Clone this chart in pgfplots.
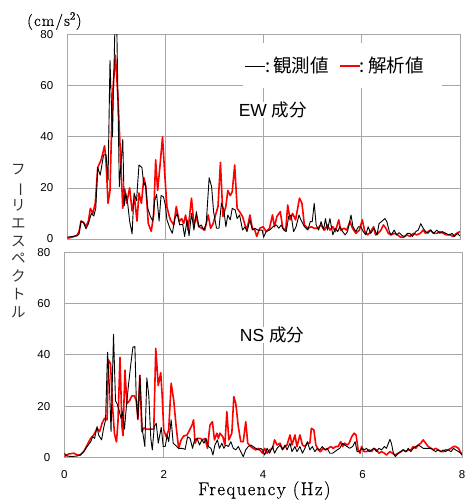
\documentclass[border=0pt]{standalone}
\usepackage{fontspec}
\usepackage{graphicx}
\usepackage{pgfplots}
\pgfplotsset{compat=1.18}
\newfontfamily\arial{Liberation Sans}
\newfontfamily\jp{Noto Sans CJK JP}
\newfontfamily\titleserif{Latin Modern Roman}[FakeBold=0.6]
\definecolor{gridgray}{RGB}{166,166,166}

\pgfplotsset{
  spec/.style={
    scale only axis, anchor=south west,
    xmin=0, xmax=8, ymin=0, ymax=80,
    xtick={0,2,4,6,8}, ytick={0,20,40,60,80},
    grid=major, major grid style={gridgray, line width=0.8pt},
    axis line style={gridgray, line width=0.8pt},
    major tick length=0pt,
    ticklabel style={font=\arial\fontsize{11.5}{12}\selectfont},
    /pgf/number format/assume math mode=true,
    yticklabel style={xshift=-10.5pt},
    xticklabel style={yshift=-9.8pt},
  },
  obs/.style={black, line width=0.9pt, line join=round},
  sim/.style={red, line width=1.6pt, line join=round},
}

\begin{document}
\begin{tikzpicture}[x=1pt,y=1pt]
\useasboundingbox (0,0) rectangle (465,501);

% ---------- EW component ----------
\begin{axis}[spec, at={(67.3pt,262pt)}, width=392.7pt, height=204.3pt, xticklabels={}]
  \addplot[sim] coordinates {
    (0,0.3) (0.1,0.7) (0.2,1.5) (0.24,3) (0.28,7) (0.33,6.5) (0.38,5) (0.43,7) (0.47,12)
    (0.52,10) (0.57,14) (0.62,28) (0.69,31) (0.76,36.5) (0.79,30) (0.83,14) (0.87,19)
    (0.92,56) (0.98,72) (1.03,56) (1.09,30) (1.13,12) (1.17,19.5) (1.21,14) (1.27,20)
    (1.32,11) (1.37,16) (1.42,7) (1.46,18) (1.51,14) (1.56,24) (1.60,20.5) (1.65,6)
    (1.71,3) (1.76,9.5) (1.80,31) (1.84,19) (1.89,29) (1.94,40) (1.98,27) (2.03,12.5)
    (2.07,9.5) (2.10,7.5) (2.17,5.5) (2.22,12.7) (2.28,6.8) (2.33,8) (2.37,6) (2.41,9.4)
    (2.46,3.5) (2.53,16) (2.58,5.5) (2.63,8.8) (2.68,4.8) (2.74,4.2) (2.80,3.5) (2.87,9.4)
    (2.92,4.2) (2.97,6) (3.02,9.4) (3.07,12.7) (3.12,30) (3.17,8.8) (3.23,12.7) (3.27,19)
    (3.32,17) (3.36,18.5) (3.41,29) (3.46,12) (3.51,10.7) (3.57,8.8) (3.62,5.5) (3.66,3.5)
    (3.72,9.4) (3.77,4.2) (3.82,3.5) (3.86,1) (3.92,4.2) (3.99,4.8) (4.05,2.9) (4.12,4.2)
    (4.18,9.4) (4.22,4.8) (4.27,8.8) (4.34,10.7) (4.39,4.2) (4.45,3.5) (4.49,13.3) (4.54,7.5)
    (4.59,10) (4.65,7.5) (4.70,12.7) (4.73,16) (4.78,14) (4.83,5.5) (4.90,4.2) (4.97,4.8)
    (5.03,4.2) (5.10,4.2) (5.17,5.5) (5.24,3.5) (5.30,5.5) (5.35,3.5) (5.41,4.8) (5.46,2.9)
    (5.53,7.5) (5.57,3.5) (5.64,4.2) (5.69,3.5) (5.76,6.8) (5.81,4.2) (5.88,2.2) (5.95,3.5)
    (6.01,7.5) (6.06,2.9) (6.12,1.6) (6.18,2.9) (6.24,4.8) (6.28,1.6) (6.33,2.2) (6.39,3.5)
    (6.44,5.5) (6.49,4.2) (6.54,2.2) (6.59,1.6) (6.66,2.2) (6.73,1.6) (6.79,0.7) (6.85,0.7)
    (6.92,1.6) (6.98,1) (7.05,2.2) (7.12,1.6) (7.19,2.2) (7.25,3.5) (7.30,2.2) (7.35,2.9)
    (7.40,3.5) (7.46,2.2) (7.53,2.2) (7.59,2.9) (7.66,2.2) (7.73,1.6) (7.80,1.6) (7.86,1)
    (7.93,2.2) (8.0,2.9)
  };
  \addplot[obs] coordinates {
    (0,0.7) (0.1,1) (0.2,1.2) (0.24,2) (0.28,7) (0.33,6.5) (0.38,4) (0.43,6) (0.49,10)
    (0.54,9) (0.58,12) (0.62,28) (0.67,25) (0.74,33) (0.79,33) (0.83,23) (0.87,70)
    (0.92,40) (0.97,83) (1.01,81) (1.06,20.5) (1.13,39) (1.16,13) (1.19,18) (1.23,14)
    (1.27,7) (1.32,2) (1.36,18) (1.41,15) (1.46,29) (1.52,28) (1.56,21) (1.59,22) (1.64,12)
    (1.69,9) (1.74,7) (1.78,15) (1.82,17.5) (1.87,7) (1.91,17) (1.96,16.5) (2.0,13)
    (2.03,7.5) (2.09,4.2) (2.14,2.2) (2.19,8) (2.24,10) (2.29,5.5) (2.35,5.8) (2.39,1)
    (2.44,7.5) (2.48,1.2) (2.53,10) (2.58,3.5) (2.63,10.7) (2.68,4.8) (2.73,5.5) (2.78,3.5)
    (2.83,6) (2.89,24) (2.94,20.5) (2.98,10.7) (3.04,4.2) (3.09,4.2) (3.14,14) (3.19,11.4)
    (3.23,4.8) (3.27,9.4) (3.32,7.5) (3.36,12) (3.42,11.4) (3.46,8) (3.51,9.4) (3.57,3.5)
    (3.62,4.8) (3.66,2.9) (3.72,7.5) (3.77,3.5) (3.82,4.2) (3.88,3.5) (3.92,3.5) (3.97,3.5)
    (4.0,0.7) (4.05,2.9) (4.12,3.5) (4.19,4.8) (4.26,5.5) (4.31,4.2) (4.36,5.5) (4.41,3.5)
    (4.46,2.9) (4.51,8.8) (4.56,9.4) (4.61,2.9) (4.66,4.8) (4.72,9.4) (4.76,7.5) (4.83,4.8)
    (4.90,3.5) (4.95,6.8) (4.99,6.8) (5.03,14) (5.07,5.5) (5.12,3.5) (5.17,6.8) (5.22,3.5)
    (5.26,8) (5.30,3.5) (5.35,8) (5.41,1.6) (5.46,4.2) (5.51,2.9) (5.55,4.8) (5.61,2.9)
    (5.66,1.6) (5.71,2.9) (5.78,9.4) (5.82,4.8) (5.88,2.9) (5.93,4.8) (5.98,4.8) (6.03,2.9)
    (6.08,1.6) (6.13,4.8) (6.18,2.2) (6.25,4.2) (6.31,1.6) (6.35,6) (6.40,6.8) (6.47,8)
    (6.51,6.8) (6.56,2.9) (6.60,1.6) (6.66,3.5) (6.71,1.6) (6.76,2.5) (6.83,1.2) (6.87,1)
    (6.93,2.2) (6.98,2.2) (7.03,1) (7.10,2.9) (7.15,3.5) (7.20,6) (7.25,4.2) (7.30,2.9)
    (7.35,2.2) (7.40,3.5) (7.46,2.2) (7.53,3.5) (7.59,2.2) (7.64,2.9) (7.71,2.2) (7.78,1.6)
    (7.84,2.2) (7.89,1) (7.95,2.2) (8.0,1.2)
  };
  % legend
  \fill[white] (axis cs:3.58,59.1) rectangle (axis cs:7.63,76.7);
  \node[anchor=west, inner sep=0, font=\jp\fontsize{18.5}{18.5}\selectfont]
    at (axis cs:3.62,68.1)
    {\rule[0.3em]{20pt}{0.6pt}:\,観測値\hspace{11pt}{\color{red}\rule[0.27em]{20pt}{2.2pt}}:\,解析値};
  \node[anchor=base west, inner sep=0, fill=white, font=\fontsize{17.5}{17.5}\selectfont]
    at (axis cs:3.49,47.8) {\arial EW \jp 成分};
\end{axis}

% ---------- NS component ----------
\begin{axis}[spec, at={(64.3pt,43.7pt)}, width=397.7pt, height=205pt]
  \addplot[sim] coordinates {
    (0,0.3) (0.09,1.3) (0.19,1.6) (0.26,0.9) (0.32,0.9) (0.39,2.2) (0.46,4.8) (0.53,7.4)
    (0.59,8.7) (0.66,11.3) (0.71,10) (0.76,13.3) (0.81,15.2) (0.86,14.6) (0.89,38) (0.93,36.5)
    (0.97,20) (1.01,9) (1.05,6) (1.08,14) (1.12,39) (1.16,12) (1.18,8.5) (1.22,34) (1.26,21)
    (1.31,22) (1.36,24) (1.41,24) (1.45,22) (1.48,15) (1.52,32) (1.56,10) (1.60,11.5)
    (1.65,11) (1.70,11) (1.76,11) (1.80,11) (1.84,42.5) (1.89,28) (1.94,33) (1.97,23.7)
    (2.0,10.7) (2.05,8) (2.10,10.7) (2.15,28.9) (2.20,22.4) (2.25,12) (2.30,3.5) (2.35,6.8)
    (2.40,8.3) (2.47,8.7) (2.52,10.7) (2.57,12.6) (2.60,14.6) (2.63,5.5) (2.68,7.4) (2.73,7.4)
    (2.79,6.8) (2.83,7.4) (2.88,3.5) (2.93,12.6) (2.98,13.9) (3.02,6.8) (3.07,9.4) (3.10,7.4)
    (3.13,9.4) (3.19,8) (3.23,4.8) (3.27,17.8) (3.31,6.8) (3.37,9.4) (3.41,23.7) (3.45,21)
    (3.50,12) (3.55,6.1) (3.60,6.1) (3.65,13.9) (3.69,5.5) (3.75,4.2) (3.80,3.5) (3.85,2.9)
    (3.90,3.5) (3.93,2.9) (3.99,1.6) (4.03,3.5) (4.08,1.6) (4.13,2.9) (4.19,3.5) (4.23,6.8)
    (4.28,4.8) (4.34,5.5) (4.39,3.1) (4.44,4.2) (4.48,4.8) (4.54,8.7) (4.58,4.8) (4.64,8.7)
    (4.68,4.2) (4.74,8.7) (4.79,4.8) (4.84,4.2) (4.89,5.5) (4.94,5.5) (4.97,11.3) (5.02,10.7)
    (5.06,4.8) (5.11,2.9) (5.15,2.2) (5.21,3.5) (5.26,2.9) (5.31,3.5) (5.36,4.2) (5.41,3.5)
    (5.46,4.2) (5.51,4.2) (5.56,6.1) (5.60,4.2) (5.64,5.5) (5.69,4.8) (5.73,5.5) (5.78,8)
    (5.83,9.4) (5.87,8.7) (5.91,2.9) (5.95,1.6) (5.98,4.2) (6.03,2.2) (6.08,2.2) (6.13,2.9)
    (6.18,2.2) (6.23,3.5) (6.28,2.9) (6.33,1.6) (6.38,2.2) (6.44,1.6) (6.48,0.9) (6.55,2.2)
    (6.60,1.6) (6.65,0.9) (6.72,1.6) (6.77,2.2) (6.82,2.9) (6.87,2.2) (6.92,2.9) (6.97,2.9)
    (7.02,4.2) (7.07,3.5) (7.12,4.8) (7.17,5.5) (7.22,6.8) (7.27,5.5) (7.32,4.2) (7.38,3.5)
    (7.42,2.9) (7.47,3.5) (7.52,2.9) (7.58,2.2) (7.62,2.2) (7.67,2.9) (7.72,2.9) (7.78,3.5)
    (7.83,4.2) (7.87,4.2) (7.93,3.5) (7.98,1.6) (8.0,0.9)
  };
  \addplot[obs] coordinates {
    (0,1.6) (0.05,0.5) (0.15,0.3) (0.26,0.5) (0.32,0.9) (0.39,2.2) (0.46,4.2) (0.53,6)
    (0.57,8) (0.61,7.4) (0.66,12) (0.69,8.7) (0.75,6.8) (0.79,11.3) (0.83,14.6) (0.87,41)
    (0.91,27) (0.94,10) (0.99,48) (1.03,22) (1.06,21) (1.10,18.5) (1.14,15.2) (1.17,17.8)
    (1.21,11) (1.25,20) (1.29,28) (1.33,35) (1.38,43) (1.42,43.2) (1.45,21) (1.48,14.6)
    (1.52,32) (1.57,10.7) (1.62,4.2) (1.66,31) (1.70,24) (1.74,7.4) (1.77,2.9) (1.81,12)
    (1.85,13.3) (1.89,5.5) (1.95,11.7) (1.99,4.2) (2.03,4.2) (2.07,8.7) (2.10,6.1) (2.15,14.6)
    (2.19,5.5) (2.23,4.8) (2.30,3.5) (2.37,3.5) (2.43,3.1) (2.48,8) (2.53,7.4) (2.58,3.5)
    (2.62,6.8) (2.67,7.4) (2.72,4.8) (2.77,6.8) (2.81,5.5) (2.85,7.4) (2.90,4.2) (2.95,3.5)
    (2.99,0.9) (3.03,4.8) (3.08,6.8) (3.12,3.5) (3.17,5.5) (3.21,3.5) (3.25,4.8) (3.30,4.2)
    (3.35,6.1) (3.40,3.5) (3.45,2.9) (3.50,4.2) (3.55,2.2) (3.60,0.3) (3.65,2.9) (3.70,4.2)
    (3.75,4.8) (3.80,4.2) (3.85,3.5) (3.90,2.9) (3.95,3.5) (3.99,2.9) (4.03,0.9) (4.08,3.5)
    (4.13,1.6) (4.19,4.2) (4.23,1.6) (4.28,3.5) (4.34,4.8) (4.39,2.9) (4.44,4.8) (4.48,2.9)
    (4.54,5.5) (4.58,2.2) (4.64,4.2) (4.68,2.2) (4.74,4.2) (4.79,1.6) (4.84,3.5) (4.89,6.1)
    (4.94,2.9) (4.99,4.2) (5.04,2.2) (5.09,3.5) (5.14,2.9) (5.19,4.2) (5.24,2.9) (5.29,3.5)
    (5.34,1.6) (5.40,1.6) (5.44,2.2) (5.49,2.9) (5.54,3.5) (5.60,5.5) (5.64,4.8) (5.69,4.2)
    (5.74,3.5) (5.80,4.2) (5.85,6.1) (5.89,2.2) (5.93,2.2) (5.98,3.5) (6.03,2.9) (6.08,3.5)
    (6.13,2.2) (6.18,2.9) (6.23,3.5) (6.28,2.2) (6.33,3.5) (6.38,2.9) (6.44,4.2) (6.48,3.5)
    (6.52,5.5) (6.55,7) (6.58,5.5) (6.62,1.6) (6.66,0.3) (6.72,1.6) (6.77,2.2) (6.82,2.9)
    (6.87,2.2) (6.92,3.5) (6.97,2.2) (7.02,3.5) (7.07,4.2) (7.12,4.8) (7.17,4.2) (7.22,3.5)
    (7.27,3.5) (7.32,3.5) (7.38,3.5) (7.42,2.9) (7.47,2.2) (7.52,2.9) (7.58,2.2) (7.62,2.9)
    (7.67,2.2) (7.72,2.9) (7.78,2.2) (7.83,3.5) (7.87,2.9) (7.93,2.2) (7.98,1.6) (8.0,0.9)
  };
  \node[anchor=base west, inner sep=0, fill=white, font=\fontsize{17.5}{17.5}\selectfont]
    at (axis cs:3.53,45.1) {\arial NS \jp 成分};
\end{axis}

% unit, axis title and vertical label
\node[anchor=west, inner sep=0, font=\titleserif\fontsize{16}{16}\selectfont\addfontfeature{LetterSpace=8}]
  at (27,480) {(cm/s\textsuperscript{2})};
\node[anchor=west, inner sep=0, font=\titleserif\fontsize{18.5}{18.5}\selectfont\addfontfeature{LetterSpace=8}]
  at (198,10.5) {Frequency (Hz)};
\node[inner sep=0, align=center, font=\jp\fontsize{14.5}{17.8}\selectfont, text=black!80]
  at (18.5,259.8)
  {フ\\\rotatebox[origin=c]{-90}{ー}\\リ\\エ\\ス\\ペ\\ク\\ト\\ル};
\end{tikzpicture}
\end{document}
